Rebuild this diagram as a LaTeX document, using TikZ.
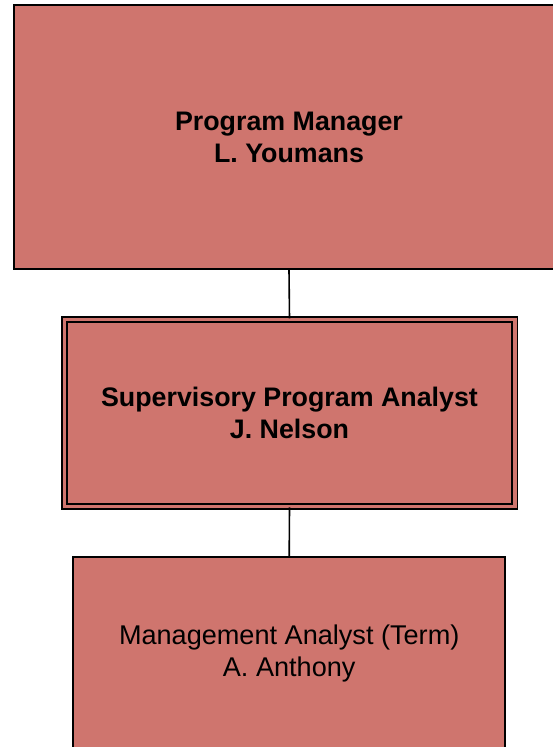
\documentclass[tikz,border=0pt]{standalone}
\usepackage{fontspec}
\setmainfont{Liberation Sans}
\definecolor{boxred}{RGB}{207,117,110}
\begin{document}
\begin{tikzpicture}[x=1pt,y=1pt,line join=miter,
  orgbox/.style={draw=black,line width=2pt,fill=boxred,align=center,inner sep=0pt,
    font=\fontsize{26.8}{32}\selectfont},
  leadbox/.style={orgbox,line width=1.8pt,double=boxred,double distance=3.4pt},
  link/.style={draw=black,line width=1.6pt}]
	\clip (0,0) rectangle (553,-747);
	% Hàng 1
	\node[orgbox,minimum width=550,minimum height=263.3] (pm) at (289,-137) {\textbf{Program Manager}\\\textbf{L. Youmans}};
	% Hàng 2
	\node[leadbox,minimum width=450.6,minimum height=187.3] (spa) at (289.5,-412.9) {\textbf{Supervisory Program Analyst}\\\textbf{J. Nelson}};
	% Hàng 3
	\node[orgbox,minimum width=432,minimum height=192,font=\fontsize{27.1}{32}\selectfont] (ma) at (289.2,-653) {Management Analyst (Term)\\A. Anthony};
	% Đường nối
	\draw[link] (pm.south) -- (spa.north);
	\draw[link] (spa.south) -- (ma.north);
\end{tikzpicture}
\end{document}
